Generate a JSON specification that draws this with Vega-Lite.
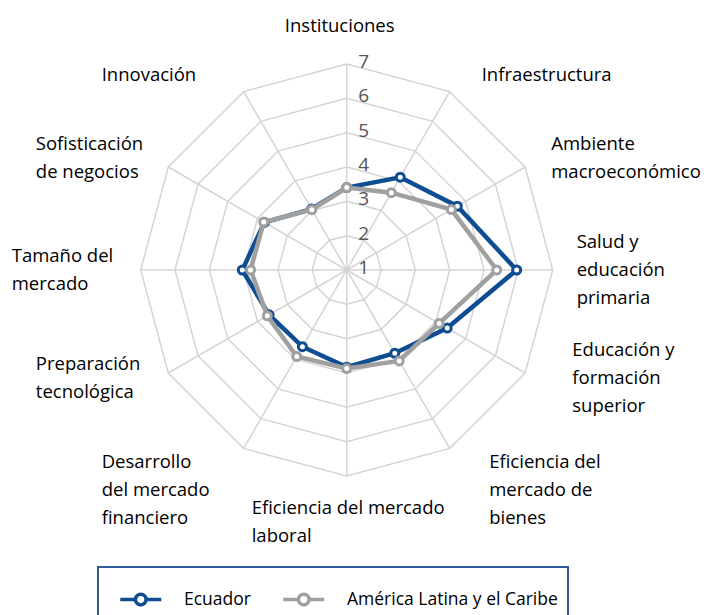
{
  "$schema": "https://vega.github.io/schema/vega-lite/v6.json",
  "width": 710,
  "height": 615,
  "autosize": {"type": "none"},
  "padding": 0,
  "config": {"view": {"stroke": null}, "font": "Open Sans"},
  "datasets": {
    "cats": [
      {"i": 0, "label": "Instituciones"},
      {"i": 1, "label": "Infraestructura"},
      {"i": 2, "label": "Ambiente\nmacroeconómico"},
      {"i": 3, "label": "Salud y\neducación\nprimaria"},
      {"i": 4, "label": "Educación y\nformación\nsuperior"},
      {"i": 5, "label": "Eficiencia del\nmercado de\nbienes"},
      {"i": 6, "label": "Eficiencia del mercado\nlaboral"},
      {"i": 7, "label": "Desarrollo\ndel mercado\nfinanciero"},
      {"i": 8, "label": "Preparación\ntecnológica"},
      {"i": 9, "label": "Tamaño del\nmercado"},
      {"i": 10, "label": "Sofisticación\nde negocios"},
      {"i": 11, "label": "Innovación"}
    ],
    "levels": [
      {"level": 1}, {"level": 2}, {"level": 3}, {"level": 4}, {"level": 5}, {"level": 6}, {"level": 7}
    ],
    "scores": [
      {"cat": "Instituciones", "i": 0, "serie": "Ecuador", "v": 3.4},
      {"cat": "Infraestructura", "i": 1, "serie": "Ecuador", "v": 4.12},
      {"cat": "Ambiente macroeconómico", "i": 2, "serie": "Ecuador", "v": 4.72},
      {"cat": "Salud y educación primaria", "i": 3, "serie": "Ecuador", "v": 5.95},
      {"cat": "Educación y formación superior", "i": 4, "serie": "Ecuador", "v": 4.38},
      {"cat": "Eficiencia del mercado de bienes", "i": 5, "serie": "Ecuador", "v": 3.8},
      {"cat": "Eficiencia del mercado laboral", "i": 6, "serie": "Ecuador", "v": 3.83},
      {"cat": "Desarrollo del mercado financiero", "i": 7, "serie": "Ecuador", "v": 3.58},
      {"cat": "Preparación tecnológica", "i": 8, "serie": "Ecuador", "v": 3.61},
      {"cat": "Tamaño del mercado", "i": 9, "serie": "Ecuador", "v": 4.04},
      {"cat": "Sofisticación de negocios", "i": 10, "serie": "Ecuador", "v": 3.77},
      {"cat": "Innovación", "i": 11, "serie": "Ecuador", "v": 3.05},
      {"cat": "Instituciones", "i": 0, "serie": "América Latina y el Caribe", "v": 3.4},
      {"cat": "Infraestructura", "i": 1, "serie": "América Latina y el Caribe", "v": 3.6},
      {"cat": "Ambiente macroeconómico", "i": 2, "serie": "América Latina y el Caribe", "v": 4.52},
      {"cat": "Salud y educación primaria", "i": 3, "serie": "América Latina y el Caribe", "v": 5.37},
      {"cat": "Educación y formación superior", "i": 4, "serie": "América Latina y el Caribe", "v": 4.11},
      {"cat": "Eficiencia del mercado de bienes", "i": 5, "serie": "América Latina y el Caribe", "v": 4.06},
      {"cat": "Eficiencia del mercado laboral", "i": 6, "serie": "América Latina y el Caribe", "v": 3.87},
      {"cat": "Desarrollo del mercado financiero", "i": 7, "serie": "América Latina y el Caribe", "v": 3.91},
      {"cat": "Preparación tecnológica", "i": 8, "serie": "América Latina y el Caribe", "v": 3.67},
      {"cat": "Tamaño del mercado", "i": 9, "serie": "América Latina y el Caribe", "v": 3.8},
      {"cat": "Sofisticación de negocios", "i": 10, "serie": "América Latina y el Caribe", "v": 3.79},
      {"cat": "Innovación", "i": 11, "serie": "América Latina y el Caribe", "v": 3.03}
    ],
    "grid": [
      {"level": 2, "idx": 0}, {"level": 2, "idx": 1}, {"level": 2, "idx": 2}, {"level": 2, "idx": 3}, {"level": 2, "idx": 4}, {"level": 2, "idx": 5}, {"level": 2, "idx": 6}, {"level": 2, "idx": 7}, {"level": 2, "idx": 8}, {"level": 2, "idx": 9}, {"level": 2, "idx": 10}, {"level": 2, "idx": 11},
      {"level": 3, "idx": 0}, {"level": 3, "idx": 1}, {"level": 3, "idx": 2}, {"level": 3, "idx": 3}, {"level": 3, "idx": 4}, {"level": 3, "idx": 5}, {"level": 3, "idx": 6}, {"level": 3, "idx": 7}, {"level": 3, "idx": 8}, {"level": 3, "idx": 9}, {"level": 3, "idx": 10}, {"level": 3, "idx": 11},
      {"level": 4, "idx": 0}, {"level": 4, "idx": 1}, {"level": 4, "idx": 2}, {"level": 4, "idx": 3}, {"level": 4, "idx": 4}, {"level": 4, "idx": 5}, {"level": 4, "idx": 6}, {"level": 4, "idx": 7}, {"level": 4, "idx": 8}, {"level": 4, "idx": 9}, {"level": 4, "idx": 10}, {"level": 4, "idx": 11},
      {"level": 5, "idx": 0}, {"level": 5, "idx": 1}, {"level": 5, "idx": 2}, {"level": 5, "idx": 3}, {"level": 5, "idx": 4}, {"level": 5, "idx": 5}, {"level": 5, "idx": 6}, {"level": 5, "idx": 7}, {"level": 5, "idx": 8}, {"level": 5, "idx": 9}, {"level": 5, "idx": 10}, {"level": 5, "idx": 11},
      {"level": 6, "idx": 0}, {"level": 6, "idx": 1}, {"level": 6, "idx": 2}, {"level": 6, "idx": 3}, {"level": 6, "idx": 4}, {"level": 6, "idx": 5}, {"level": 6, "idx": 6}, {"level": 6, "idx": 7}, {"level": 6, "idx": 8}, {"level": 6, "idx": 9}, {"level": 6, "idx": 10}, {"level": 6, "idx": 11},
      {"level": 7, "idx": 0}, {"level": 7, "idx": 1}, {"level": 7, "idx": 2}, {"level": 7, "idx": 3}, {"level": 7, "idx": 4}, {"level": 7, "idx": 5}, {"level": 7, "idx": 6}, {"level": 7, "idx": 7}, {"level": 7, "idx": 8}, {"level": 7, "idx": 9}, {"level": 7, "idx": 10}, {"level": 7, "idx": 11}
    ]
  },
  "layer": [
    {
      "data": {"name": "grid"},
      "transform": [
        {"calculate": "(datum.level - 1) / 6 * sin(datum.idx * PI / 6)", "as": "x"},
        {"calculate": "(datum.level - 1) / 6 * cos(datum.idx * PI / 6)", "as": "y"}
      ],
      "mark": {"type": "line", "interpolate": "linear-closed", "stroke": "#D4D4D4", "strokeWidth": 1.5},
      "encoding": {
        "x": {"field": "x", "type": "quantitative", "scale": {"domain": [-1.683, 1.7636], "nice": false, "zero": false}, "axis": null},
        "y": {"field": "y", "type": "quantitative", "scale": {"domain": [-1.6748, 1.3107], "nice": false, "zero": false}, "axis": null},
        "detail": {"field": "level", "type": "nominal"},
        "order": {"field": "idx", "type": "quantitative"}
      }
    },
    {
      "data": {"name": "cats"},
      "transform": [
        {"calculate": "0", "as": "cx"},
        {"calculate": "0", "as": "cy"},
        {"calculate": "sin(datum.i * PI / 6)", "as": "ox"},
        {"calculate": "cos(datum.i * PI / 6)", "as": "oy"}
      ],
      "mark": {"type": "rule", "stroke": "#D4D4D4", "strokeWidth": 1.5},
      "encoding": {
        "x": {"field": "cx", "type": "quantitative"},
        "y": {"field": "cy", "type": "quantitative"},
        "x2": {"field": "ox"},
        "y2": {"field": "oy"}
      }
    },
    {
      "data": {"name": "levels"},
      "transform": [
        {"calculate": "0", "as": "x"},
        {"calculate": "(datum.level - 1) / 6", "as": "y"}
      ],
      "mark": {"type": "text", "fontSize": 19, "color": "#555555", "dx": 17, "dy": -2, "align": "center", "baseline": "middle"},
      "encoding": {
        "x": {"field": "x", "type": "quantitative"},
        "y": {"field": "y", "type": "quantitative"},
        "text": {"field": "level", "type": "quantitative"}
      }
    },
    {
      "data": {"name": "scores"},
      "transform": [
        {"filter": "datum.serie === 'Ecuador'"},
        {"calculate": "(datum.v - 1) / 6 * sin(datum.i * PI / 6)", "as": "x"},
        {"calculate": "(datum.v - 1) / 6 * cos(datum.i * PI / 6)", "as": "y"}
      ],
      "mark": {"type": "line", "interpolate": "linear-closed", "strokeWidth": 4.5},
      "encoding": {
        "x": {"field": "x", "type": "quantitative"},
        "y": {"field": "y", "type": "quantitative"},
        "order": {"field": "i", "type": "quantitative"},
        "stroke": {
          "field": "serie", "type": "nominal",
          "scale": {"domain": ["Ecuador", "América Latina y el Caribe"], "range": ["#0F4D92", "#A0A0A0"]},
          "legend": {
            "orient": "none", "legendX": 98, "legendY": 567, "direction": "horizontal", "title": null,
            "symbolType": "M-0.5,0L0.24,0M0.76,0L1.5,0M0.76,0A0.26,0.26,0,1,1,0.24,0A0.26,0.26,0,1,1,0.76,0",
            "symbolSize": 1681, "symbolStrokeWidth": 3.5, "symbolFillColor": "white",
            "labelFont": "Open Sans", "labelFontSize": 17.5, "labelColor": "black", "labelLimit": 400,
            "labelOffset": 31, "columnPadding": 20, "padding": 10,
            "strokeColor": "#2E5C9A", "cornerRadius": 0,
            "encode": {"legend": {"update": {"strokeWidth": {"value": 2}}}}
          }
        }
      }
    },
    {
      "data": {"name": "scores"},
      "transform": [
        {"filter": "datum.serie === 'Ecuador'"},
        {"calculate": "(datum.v - 1) / 6 * sin(datum.i * PI / 6)", "as": "x"},
        {"calculate": "(datum.v - 1) / 6 * cos(datum.i * PI / 6)", "as": "y"}
      ],
      "mark": {"type": "point", "filled": true, "fill": "white", "strokeWidth": 3, "size": 64, "opacity": 1},
      "encoding": {
        "x": {"field": "x", "type": "quantitative"},
        "y": {"field": "y", "type": "quantitative"},
        "stroke": {"field": "serie", "type": "nominal"}
      }
    },
    {
      "data": {"name": "scores"},
      "transform": [
        {"filter": "datum.serie !== 'Ecuador'"},
        {"calculate": "(datum.v - 1) / 6 * sin(datum.i * PI / 6)", "as": "x"},
        {"calculate": "(datum.v - 1) / 6 * cos(datum.i * PI / 6)", "as": "y"}
      ],
      "mark": {"type": "line", "interpolate": "linear-closed", "strokeWidth": 4.5},
      "encoding": {
        "x": {"field": "x", "type": "quantitative"},
        "y": {"field": "y", "type": "quantitative"},
        "order": {"field": "i", "type": "quantitative"},
        "stroke": {"field": "serie", "type": "nominal"}
      }
    },
    {
      "data": {"name": "scores"},
      "transform": [
        {"filter": "datum.serie !== 'Ecuador'"},
        {"calculate": "(datum.v - 1) / 6 * sin(datum.i * PI / 6)", "as": "x"},
        {"calculate": "(datum.v - 1) / 6 * cos(datum.i * PI / 6)", "as": "y"}
      ],
      "mark": {"type": "point", "filled": true, "fill": "white", "strokeWidth": 3, "size": 64, "opacity": 1},
      "encoding": {
        "x": {"field": "x", "type": "quantitative"},
        "y": {"field": "y", "type": "quantitative"},
        "stroke": {"field": "serie", "type": "nominal"}
      }
    },
    {
      "data": {"name": "cats"},
      "transform": [
        {"filter": "datum.i >= 1 && datum.i <= 5"},
        {"calculate": "length(split(datum.label, '\\n'))", "as": "n"},
        {"calculate": "sin(datum.i * PI / 6)", "as": "s"},
        {"calculate": "cos(datum.i * PI / 6)", "as": "c"},
        {"calculate": "(datum.c < -0.01 ? 29 + 227 * datum.s : 40 + 190 * datum.s) / 206", "as": "x"},
        {"calculate": "((datum.c < -0.01 ? 197 * datum.c + 76 * pow(datum.c, 3) : 225 * datum.c) + (datum.n - 1) * 14) / 206", "as": "y"}
      ],
      "mark": {"type": "text", "align": "left", "baseline": "middle", "fontSize": 18.5, "lineHeight": 28, "lineBreak": "\n", "color": "black"},
      "encoding": {
        "x": {"field": "x", "type": "quantitative"},
        "y": {"field": "y", "type": "quantitative"},
        "text": {"field": "label", "type": "nominal"}
      }
    },
    {
      "data": {"name": "cats"},
      "transform": [
        {"filter": "datum.i >= 7"},
        {"calculate": "length(split(datum.label, '\\n'))", "as": "n"},
        {"calculate": "sin(datum.i * PI / 6)", "as": "s"},
        {"calculate": "cos(datum.i * PI / 6)", "as": "c"},
        {"calculate": "(-155 + 180 * datum.s) / 206", "as": "x"},
        {"calculate": "((datum.c < -0.01 ? 197 * datum.c + 76 * pow(datum.c, 3) : 225 * datum.c) + (datum.n - 1) * 14) / 206", "as": "y"}
      ],
      "mark": {"type": "text", "align": "left", "baseline": "middle", "fontSize": 18.5, "lineHeight": 28, "lineBreak": "\n", "color": "black"},
      "encoding": {
        "x": {"field": "x", "type": "quantitative"},
        "y": {"field": "y", "type": "quantitative"},
        "text": {"field": "label", "type": "nominal"}
      }
    },
    {
      "data": {"name": "cats"},
      "transform": [
        {"filter": "datum.i === 0"},
        {"calculate": "0", "as": "x"},
        {"calculate": "230 / 206", "as": "y"}
      ],
      "mark": {"type": "text", "align": "center", "baseline": "middle", "dx": -7, "dy": -14, "fontSize": 18.5, "lineHeight": 28, "lineBreak": "\n", "color": "black"},
      "encoding": {
        "x": {"field": "x", "type": "quantitative"},
        "y": {"field": "y", "type": "quantitative"},
        "text": {"field": "label", "type": "nominal"}
      }
    },
    {
      "data": {"name": "cats"},
      "transform": [
        {"filter": "datum.i === 6"},
        {"calculate": "length(split(datum.label, '\\n'))", "as": "n"},
        {"calculate": "0", "as": "x"},
        {"calculate": "(-230 + (datum.n - 1) * 14) / 206", "as": "y"}
      ],
      "mark": {"type": "text", "align": "left", "baseline": "middle", "dx": -95, "dy": 22, "fontSize": 18.5, "lineHeight": 28, "lineBreak": "\n", "color": "black"},
      "encoding": {
        "x": {"field": "x", "type": "quantitative"},
        "y": {"field": "y", "type": "quantitative"},
        "text": {"field": "label", "type": "nominal"}
      }
    }
  ]
}
